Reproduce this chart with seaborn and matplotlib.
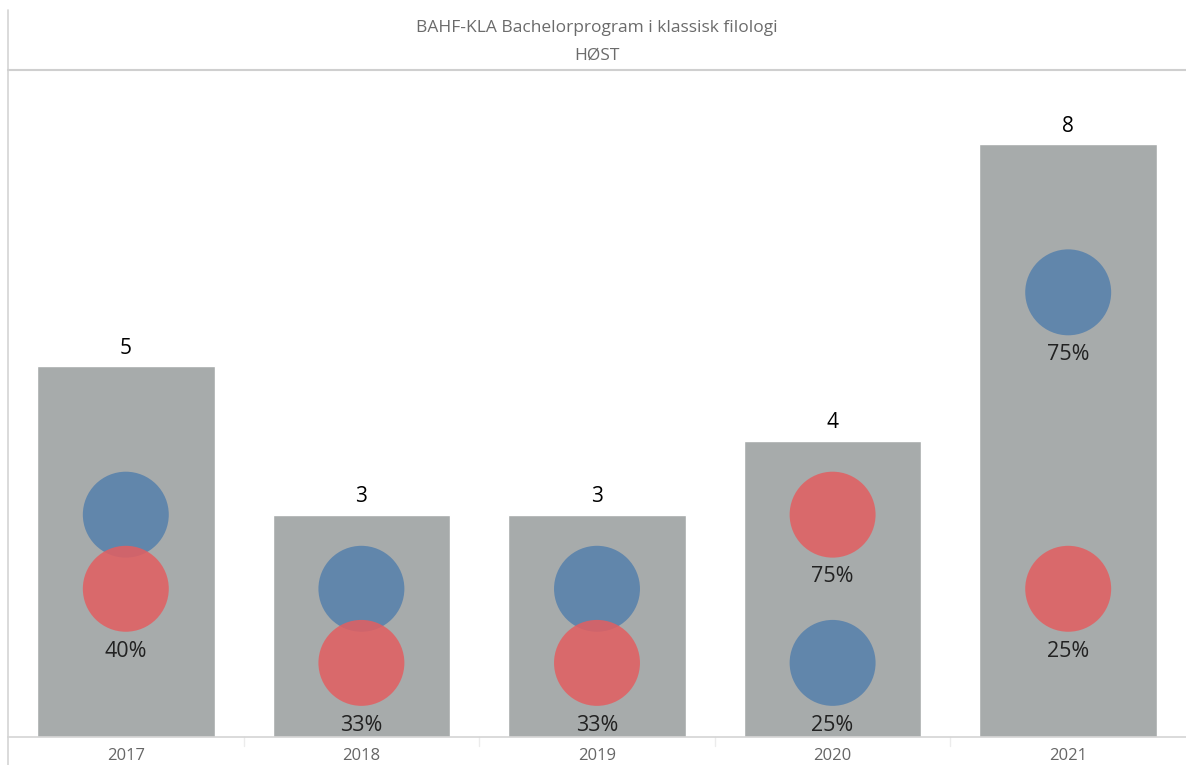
import seaborn as sns
import matplotlib.pyplot as plt
import pandas as pd

years = ['2017', '2018', '2019', '2020', '2021']
totals = [5, 3, 3, 4, 8]
blue_counts = [3, 2, 2, 1, 6]
red_counts = [2, 1, 1, 3, 2]
# labels Tableau kept visible (the hidden ones sit under the other circle)
blue_labels = ['', '', '', '25%', '75%']
red_labels = ['40%', '33%', '33%', '75%', '25%']

df = pd.DataFrame({'year': years, 'total': totals})
circ = pd.DataFrame({
    'year': years * 2,
    'count': blue_counts + red_counts,
    'group': ['blue'] * 5 + ['red'] * 5,
    'label': blue_labels + red_labels,
})

sns.set_style('white')
plt.rcParams['font.family'] = ['Open Sans', 'DejaVu Sans']

fig = plt.figure(figsize=(11.86, 7.65), dpi=100)
ax = fig.add_axes([8 / 1186, 28 / 765, 1178 / 1186, 667 / 765])

sns.barplot(data=df, x='year', y='total', color='#a7abab', saturation=1,
            width=0.754, ax=ax, zorder=1)
sns.scatterplot(data=circ, x='year', y='count', hue='group',
                palette={'blue': '#5580ab', 'red': '#e35e60'},
                s=3830, alpha=0.85, linewidth=0, legend=False, ax=ax, zorder=3)

for i, t in enumerate(totals):
    ax.text(i, t + 0.24, str(t), ha='center', va='center', fontsize=15,
            color='black')
for _, r in circ.iterrows():
    if r['label']:
        ax.text(years.index(r['year']), r['count'] - 0.84, r['label'],
                ha='center', va='center', fontsize=15.5, color='#222222',
                zorder=4)

ax.set_xlim(-0.5, 4.5)
ax.set_ylim(0, 9.0)
ax.set_xlabel('')
ax.set_ylabel('')
ax.set_yticks([])
ax.tick_params(axis='x', length=0, labelsize=12, labelcolor='#666666', pad=8)
for s in ['top', 'right']:
    ax.spines[s].set_visible(False)
ax.spines['left'].set_visible(False)
ax.spines['bottom'].set_color('#d4d4d4')
ax.spines['bottom'].set_linewidth(1.2)
for xb in [0.5, 1.5, 2.5, 3.5]:
    ax.plot([xb, xb], [0, -0.12], color='#ececec', lw=1, clip_on=False)

# frame lines of the Tableau sheet
fig.add_artist(plt.Line2D([8 / 1186, 8 / 1186], [0, 1 - 10 / 765],
                          color='#d4d4d4', lw=1.2))
fig.add_artist(plt.Line2D([8 / 1186, 1], [1 - 70 / 765, 1 - 70 / 765],
                          color='#cfcfcf', lw=1.5))
fig.text(597 / 1186, 1 - 28 / 765, 'BAHF-KLA Bachelorprogram i klassisk filologi',
         ha='center', va='center', fontsize=12.5, color='#6b6b6b')
fig.text(597 / 1186, 1 - 56 / 765, 'HØST', ha='center', va='center',
         fontsize=12.5, color='#6b6b6b')

fig.savefig('out.png', dpi=100)
